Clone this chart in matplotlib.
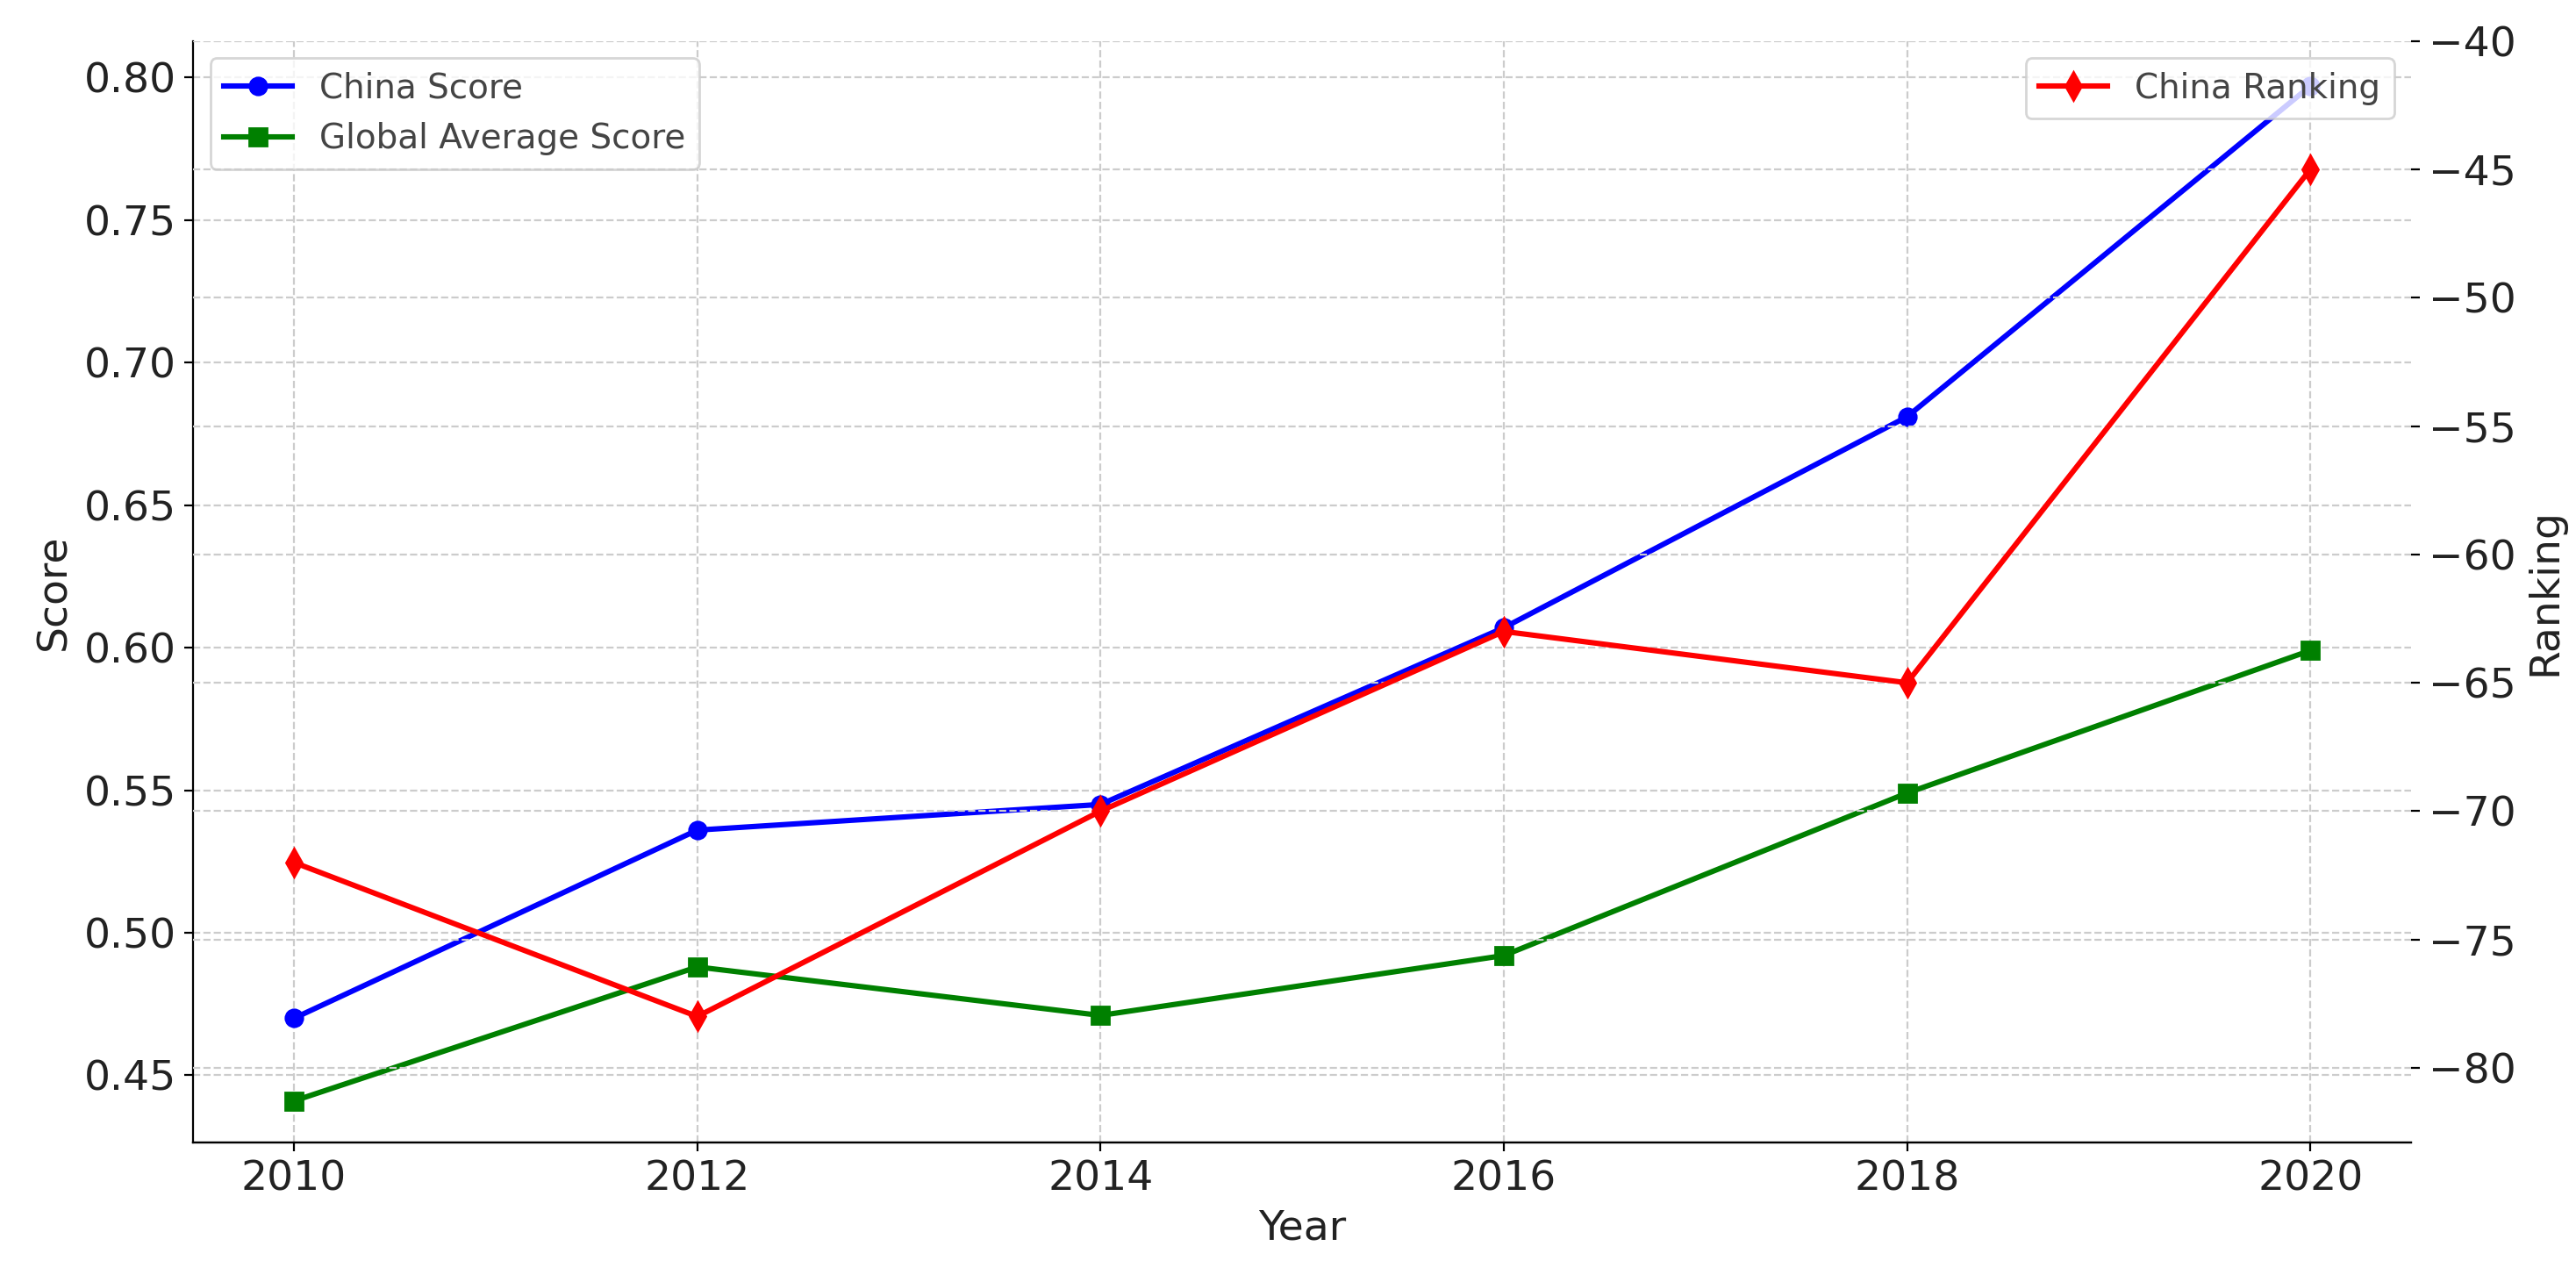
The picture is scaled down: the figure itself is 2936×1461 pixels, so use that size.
import matplotlib
matplotlib.use("Agg")
import matplotlib.pyplot as plt

years = [2010, 2012, 2014, 2016, 2018, 2020]
china_score = [0.470, 0.536, 0.545, 0.607, 0.681, 0.797]
global_score = [0.441, 0.488, 0.471, 0.492, 0.549, 0.599]
china_ranking = [-72, -78, -70, -63, -65, -45]

fig = plt.figure(figsize=(14.68, 7.305), dpi=200)
ax = fig.add_axes([0.075, 0.109, 0.861, 0.859])
ax.plot(years, china_score, color='blue', marker='o', lw=2.2, ms=7, label='China Score')
ax.plot(years, global_score, color='green', marker='s', lw=2.2, ms=7, label='Global Average Score')
ax.set_ylim(0.4265, 0.8128)
ax.set_xlim(2009.5, 2020.5)
ax.set_xticks(years)
ax.set_xlabel('Year', fontsize=17, color='#222222')
ax.set_ylabel('Score', fontsize=17, color='#222222')
ax.tick_params(labelsize=17, labelcolor='#222222')
ax.grid(True, ls='--', color='#cccccc', lw=0.8)
for s in ['top', 'right']:
    ax.spines[s].set_visible(False)
leg = ax.legend(loc='upper left', fontsize=14)
for t in leg.get_texts():
    t.set_color('#444444')

ax2 = ax.twinx()
ax2.plot(years, china_ranking, color='red', marker='d', lw=2.2, ms=8, label='China Ranking')
ax2.set_ylim(-82.9, -40)
ax2.set_yticks([-80, -75, -70, -65, -60, -55, -50, -45, -40])
ax2.set_ylabel('Ranking', fontsize=17, color='#222222')
ax2.tick_params(labelsize=17, labelcolor='#222222')
ax2.grid(True, ls='--', color='#cccccc', lw=0.8)
for s in ['top', 'right', 'left']:
    ax2.spines[s].set_visible(False)
leg2 = ax2.legend(loc='upper right', fontsize=14)
for t in leg2.get_texts():
    t.set_color('#444444')

fig.savefig('out.png', dpi=200)
